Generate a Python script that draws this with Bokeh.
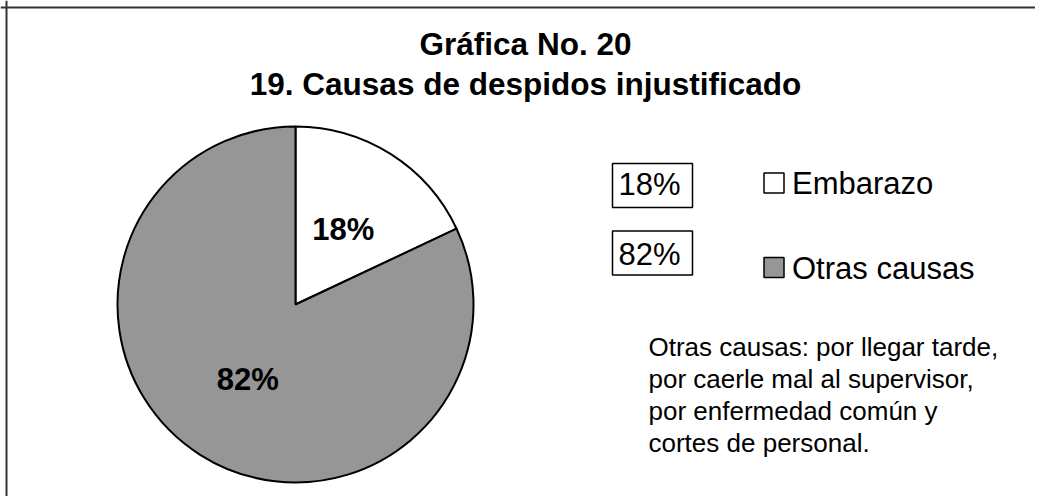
import math
from bokeh.plotting import figure
from bokeh.models import Range1d, Span, ColumnDataSource
from bokeh.core.properties import value
from bokeh.embed import file_html
from bokeh.resources import INLINE

# ---- data ----
categories = ["Embarazo", "Otras causas"]
percents = [18, 82]
colors = ["#ffffff", "#969696"]
title_lines = ["Gráfica No. 20", "19. Causas de despidos injustificado"]
note_lines = [
    "Otras causas: por llegar tarde,",
    "por caerle mal al supervisor,",
    "por enfermedad común y",
    "cortes de personal.",
]

W, H = 1035, 496
FONT = value("Liberation Sans")

def X(ix):
    return ix

def Y(iy):
    return H - iy

p = figure(width=W, height=H, output_backend="svg", toolbar_location=None,
           x_range=Range1d(0, W), y_range=Range1d(0, H),
           min_border=0, outline_line_color=None, background_fill_color="white",
           border_fill_color="white")
p.axis.visible = False
p.grid.visible = False

# chart frame (left and top edges visible)
p.add_layout(Span(location=X(6), dimension="height", line_color="#333333", line_width=2))
p.add_layout(Span(location=Y(7), dimension="width", line_color="#333333", line_width=2))

# ---- pie ----
cx, cy, R = X(295), Y(304), 178
total = sum(percents)
starts, ends, mids = [], [], []
acc = 0.0
for v in percents:
    a0 = math.pi / 2 - 2 * math.pi * acc / total
    a1 = math.pi / 2 - 2 * math.pi * (acc + v) / total
    starts.append(a1)
    ends.append(a0)
    mids.append((a0 + a1) / 2)
    acc += v

src = ColumnDataSource(dict(start=starts, end=ends, color=colors, cat=categories))
p.wedge(x=cx, y=cy, radius=R, start_angle="start", end_angle="end",
        fill_color="color", line_color="black", line_width=2, source=src)

lab_r = 0.5 * R
p.text(x=[cx + lab_r * math.cos(m) for m in mids],
       y=[cy + lab_r * math.sin(m) for m in mids],
       text=[f"{v}%" for v in percents],
       text_font=FONT, text_font_size="31px", text_font_style="bold",
       text_align="center", text_baseline="middle", text_color="black")

# ---- value boxes ----
p.rect(x=[X(652)] * 2, y=[Y(185), Y(252.5)], width=80, height=44,
       fill_color="white", line_color="black", line_width=1.5)
p.text(x=[X(649)] * 2, y=[Y(184), Y(254)], text=[f"{v}%" for v in percents],
       text_font=FONT, text_font_size="31px", text_align="center",
       text_baseline="middle", text_color="black")

# ---- legend ----
p.rect(x=[X(773.5)] * 2, y=[Y(182.5), Y(267)], width=20, height=20,
       fill_color=colors, line_color="black", line_width=1.5)
p.text(x=[X(791.5)] * 2, y=[Y(182.5), Y(267.5)], text=categories,
       text_font=FONT, text_font_size="31px", text_align="left",
       text_baseline="middle", text_color="black")

# ---- note ----
p.text(x=[X(648)] * len(note_lines), y=[Y(346 + 32 * i) for i in range(len(note_lines))],
       text=note_lines, text_font=FONT, text_font_size="26px",
       text_align="left", text_baseline="middle", text_color="black")

# ---- title ----
p.text(x=[X(525)] * 2, y=[Y(43), Y(83)], text=title_lines,
       text_font=FONT, text_font_size="31.5px", text_font_style="bold",
       text_align="center", text_baseline="middle", text_color="black")

open("out.html", "w").write(file_html(p, INLINE))
